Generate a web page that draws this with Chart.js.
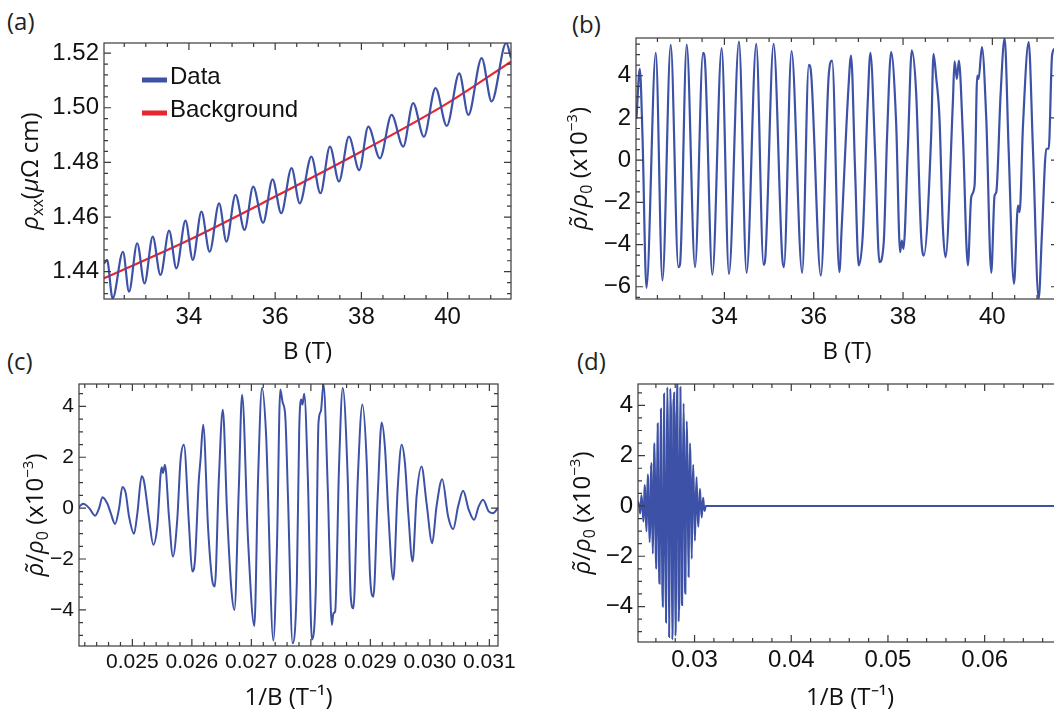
<!DOCTYPE html>
<html>
<head>
<meta charset="utf-8">
<script src="https://cdn.jsdelivr.net/npm/chart.js@4.4.1/dist/chart.umd.min.js"></script>
<style>
html, body { margin: 0; padding: 0; background: #fff; width: 1054px; height: 713px; overflow: hidden; position: relative; }
canvas { position: absolute; }
.tag { position: absolute; font: 24px 'Open Sans', sans-serif; line-height: 24px; color: #222; }
</style>
</head>
<body>
<div class="tag" style="left:7px;top:9px">(a)</div>
<div class="tag" style="left:572px;top:12px">(b)</div>
<div class="tag" style="left:7px;top:349px">(c)</div>
<div class="tag" style="left:577px;top:349px">(d)</div>
<canvas id="chartA"></canvas>
<canvas id="chartB"></canvas>
<canvas id="chartC"></canvas>
<canvas id="chartD"></canvas>
<script>
// ---- data ----
// (a) raw resistivity vs field
const aField = [32.03, 32.10, 32.23, 32.47, 32.61, 32.80, 32.97, 33.16, 33.34, 33.54, 33.71, 33.92, 34.09, 34.29, 34.48,
  34.70, 34.87, 35.08, 35.29, 35.49, 35.72, 35.94, 36.14, 36.38, 36.57, 36.84, 37.05, 37.27, 37.48, 37.71, 37.95,
  38.16, 38.43, 38.70, 38.97, 39.20, 39.45, 39.72, 39.98, 40.27, 40.48, 40.79, 41.02, 41.36, 41.47];
const aRho = [1.4430, 1.4443, 1.4302, 1.4473, 1.4327, 1.4504, 1.4357, 1.4528, 1.4388, 1.4550, 1.4412, 1.4587, 1.4443, 1.4620, 1.4473,
  1.4650, 1.4510, 1.4681, 1.4553, 1.4711, 1.4579, 1.4738, 1.4614, 1.4779, 1.4650, 1.4821, 1.4687, 1.4858, 1.4730, 1.4894, 1.4772,
  1.4931, 1.4815, 1.4974, 1.4858, 1.5017, 1.4894, 1.5072, 1.4934, 1.5126, 1.4974, 1.5182, 1.5023, 1.5237, 1.5182];
const bgField = [32.03, 34, 36, 38, 40, 41.47];
const bgRho = [1.4376, 1.4516, 1.4675, 1.4840, 1.5017, 1.5169];

// (b) oscillatory part vs field (x10^-3)
const bField = [32.03, 32.105, 32.165, 32.254, 32.463, 32.612, 32.798, 32.969, 33.007, 33.156, 33.342, 33.521, 33.566, 33.730,
  33.938, 34.102, 34.326, 34.497, 34.713, 34.877, 34.922, 35.101, 35.294, 35.332, 35.503, 35.741, 35.890, 35.942, 36.159,
  36.338, 36.412, 36.574, 36.626, 36.776, 36.836, 36.925, 37.007, 37.097, 37.209, 37.269, 37.374, 37.471, 37.568, 37.643,
  37.733, 37.845, 37.935, 37.972, 38.009, 38.107, 38.196, 38.293, 38.406, 38.465, 38.630, 38.682, 38.742, 38.817, 38.892,
  38.951, 39.116, 39.153, 39.206, 39.250, 39.340, 39.452, 39.527, 39.602, 39.662, 39.692, 39.766, 39.864, 39.976, 40.050,
  40.088, 40.185, 40.275, 40.364, 40.484, 40.574, 40.611, 40.686, 40.813, 40.910, 41.037, 41.112, 41.209, 41.262, 41.337, 41.40];
const bOsc = [1.96, 4.33, 1.17, -6.05, 5.09, -5.70, 5.47, -5.07, -4.91, 5.48, -5.07, 5.09, 4.64, -5.43,
  5.31, -5.40, 5.62, -5.34, 5.51, -4.96, -4.44, 5.51, -4.60, -5.07, 5.17, -5.34, 4.52, 4.09, -5.47,
  4.09, 4.72, -5.31, -3.20, 3.38, 4.96, -0.41, -4.99, -3.57, 2.75, 5.09, 0.38, -4.83, -3.89, 1.17,
  5.12, 1.80, -4.36, -3.81, -4.20, 0.54, 5.20, 3.22, -3.65, -4.52, 1.17, 5.04, 3.93, 1.95, -3.18,
  -4.60, 2.75, 4.68, 3.85, 4.72, 1.17, -4.99, -1.75, -1.20, 4.01, 3.85, 5.36, 1.95, -5.34, -1.67,
  -1.52, 3.14, 5.78, 0.54, -5.86, -2.15, -2.46, 1.64, 5.59, 0.46, -6.57, -3.40, 0.54, 0.54, 4.96, 5.30];

// (c) windowed oscillation vs inverse field (x10^-3)
const cInvB = [0.024095, 0.024173, 0.024274, 0.024374, 0.024441, 0.024497, 0.024581, 0.024637, 0.024709, 0.024777,
  0.024832, 0.024888, 0.024944, 0.025028, 0.025084, 0.025156, 0.025196, 0.025279, 0.025352, 0.025419, 0.025492,
  0.025514, 0.025547, 0.025615, 0.025682, 0.025754, 0.025810, 0.025866, 0.025950, 0.026006, 0.026050, 0.026117,
  0.026145, 0.026190, 0.026274, 0.026341, 0.026385, 0.026453, 0.026520, 0.026592, 0.026665, 0.026715, 0.026788,
  0.026844, 0.026944, 0.027050, 0.027112, 0.027179, 0.027246, 0.027369, 0.027430, 0.027486, 0.027525, 0.027570,
  0.027615, 0.027693, 0.027765, 0.027804, 0.027838, 0.027860, 0.027888, 0.027950, 0.028017, 0.028084, 0.028128,
  0.028168, 0.028212, 0.028285, 0.028352, 0.028380, 0.028408, 0.028475, 0.028536, 0.028620, 0.028670, 0.028715,
  0.028788, 0.028866, 0.028939, 0.028994, 0.029050, 0.029123, 0.029190, 0.029246, 0.029302, 0.029385, 0.029458,
  0.029525, 0.029581, 0.029637, 0.029709, 0.029777, 0.029860, 0.029944, 0.030039, 0.030112, 0.030207, 0.030307,
  0.030391, 0.030475, 0.030559, 0.030654, 0.030743, 0.030821, 0.030894, 0.030989, 0.031061, 0.031145];
const cOsc = [0.03, 0.17, 0.00, -0.30, 0.00, 0.43, 0.17, -0.20, -0.62, 0.00,
  0.83, 0.59, -0.33, -1.01, -0.20, 1.25, 1.05, -0.39, -1.44, -0.72, 1.61,
  1.38, 1.71, -0.33, -1.90, -0.46, 1.90, 2.49, -0.59, -2.49, -2.10, 1.12,
  1.90, 3.28, -0.85, -2.82, -3.08, 1.12, 3.87, -0.20, -3.22, -4.00, 0.72,
  4.46, -1.25, -4.63, 1.12, 4.72, 2.95, -5.21, -1.51, 4.66, 4.16, 3.61,
  0.46, -5.31, -2.82, 3.08, 4.27, 4.07, 4.50, 1.12, -5.16, -3.08, 3.35,
  3.81, 4.86, 0.72, -4.59, -4.13, -4.07, 1.77, 4.72, 1.12, -3.48, -3.94,
  1.12, 4.07, 1.77, -2.62, -3.48, 0.46, 3.37, 2.36, -0.20, -2.82, 0.72,
  2.49, 1.77, -0.20, -2.10, 0.46, 1.64, 0.20, -1.38, 0.07, 1.14, -0.33,
  -0.83, 0.07, 0.68, -0.07, -0.46, 0.07, 0.33, -0.13, -0.20, 0.00];

// (d) same trace, zero-padded out to large 1/B
const dTailInvB = [0.0312, 0.068];
const dTailOsc = [0, 0];

// tick labels
const aXTicks = [34, 36, 38, 40];
const aYTicks = [1.44, 1.46, 1.48, 1.50, 1.52];
const bYTicks = [-6, -4, -2, 0, 2, 4];
const cXTicks = [0.025, 0.026, 0.027, 0.028, 0.029, 0.030, 0.031];
const oscYTicks = [-4, -2, 0, 2, 4];
const dXTicks = [0.03, 0.04, 0.05, 0.06];

const legendLabels = ['Data', 'Background'];

// ---- styling ----
const blue = '#3d52a6';
const red = '#e8262d';
const frameColor = '#3a3a3a';
const tickFamily = "'Liberation Sans', Arial, sans-serif";
const titleFamily = "'Open Sans', sans-serif";

const pts = (xs, ys) => xs.map((x, i) => ({ x, y: ys[i] }));
const minus = v => String(v).replace('-', '\u2212');

// Mathematica-like frame with inward major/minor ticks on all four sides
const frameTicks = {
    id: 'frameTicks',
    afterDraw(chart, args, opts) {
        const { ctx, chartArea: a } = chart;
        ctx.save();
        ctx.strokeStyle = frameColor;
        ctx.lineWidth = 1.2;
        ctx.strokeRect(a.left, a.top, a.right - a.left, a.bottom - a.top);
        ctx.beginPath();
        [['x', opts.xMinor], ['y', opts.yMinor]].forEach(([key, step]) => {
            const s = chart.scales[key];
            const majors = s.ticks.map(t => t.value);
            const n0 = Math.ceil(s.min / step - 1e-6), n1 = Math.floor(s.max / step + 1e-6);
            for (let n = n0; n <= n1; n++) {
                const v = n * step;
                const len = majors.some(m => Math.abs(m - v) < step * 1e-3) ? 7 : 4;
                const p = s.getPixelForValue(v);
                if (key === 'x') {
                    ctx.moveTo(p, a.bottom); ctx.lineTo(p, a.bottom - len);
                    ctx.moveTo(p, a.top); ctx.lineTo(p, a.top + len);
                } else {
                    ctx.moveTo(a.left, p); ctx.lineTo(a.left + len, p);
                    ctx.moveTo(a.right, p); ctx.lineTo(a.right - len, p);
                }
            }
        });
        ctx.stroke();
        ctx.restore();
    }
};

// legend drawn inside the plot, like panel (a)
const insetLegend = {
    id: 'insetLegend',
    afterDraw(chart) {
        const { ctx, chartArea: a } = chart;
        ctx.save();
        ctx.font = '24px ' + tickFamily;
        ctx.textBaseline = 'middle';
        chart.data.datasets.forEach((ds, i) => {
            const y = a.top + 37 + i * 33;
            ctx.fillStyle = ds.borderColor;
            ctx.fillRect(a.left + 38, y - 2.5, 25, 5);
            ctx.fillStyle = '#111';
            ctx.fillText(ds.label, a.left + 66, y - 3);
        });
        ctx.restore();
    }
};

// rotated y title with italic rho and sub/superscripts
function richTitle(x, parts) {
    return {
        id: 'richTitle',
        afterDraw(chart) {
            const { ctx, chartArea: a } = chart;
            const font = p => (p.it ? 'italic ' : '') + (p.size || 24) + 'px ' + titleFamily;
            ctx.save();
            ctx.translate(x, (a.top + a.bottom) / 2);
            ctx.rotate(-Math.PI / 2);
            ctx.textBaseline = 'alphabetic';
            ctx.fillStyle = '#111';
            let w = 0;
            parts.forEach(p => { ctx.font = font(p); w += ctx.measureText(p.t).width; });
            let cx = -w / 2;
            parts.forEach(p => {
                ctx.font = font(p);
                ctx.fillText(p.t, cx, 7 + (p.dy || 0));
                cx += ctx.measureText(p.t).width;
            });
            ctx.restore();
        }
    };
}

function axis(range, ticks, fmt, fontSize, title, fitKey, fitSize) {
    return {
        type: 'linear',
        min: range[0], max: range[1],
        grid: { display: false, drawTicks: false },
        border: { display: false },
        afterBuildTicks: s => { s.ticks = ticks.map(v => ({ value: v })); },
        afterFit: s => { s[fitKey] = fitSize; },
        ticks: {
            autoSkip: false, maxRotation: 0, minRotation: 0,
            padding: fitKey === 'height' ? 4 : 5,
            color: '#111',
            font: { family: tickFamily, size: fontSize },
            callback: v => fmt(v)
        },
        title: {
            display: !!title, text: title || '', color: '#111', padding: 0,
            font: { family: titleFamily, size: 24, lineHeight: 1 }
        }
    };
}

// box: canvas rect on the page, area: wanted plot rect on the page, yTitleX: centre of the rotated title
function panel(id, box, area, yTitleX, yTitle, datasets, xAxis, yAxis, minor, extraPlugins) {
    const cv = document.getElementById(id);
    cv.width = box.w; cv.height = box.h;
    cv.style.left = box.l + 'px'; cv.style.top = box.t + 'px';
    const padL = yTitleX - 12 - box.l;
    const xa = axis(xAxis.range, xAxis.ticks, xAxis.fmt, xAxis.size, xAxis.title, 'height', box.t + box.h - area.b);
    const ya = axis(yAxis.range, yAxis.ticks, yAxis.fmt, yAxis.size, null, 'width', area.l - box.l - padL);
    return new Chart(cv, {
        type: 'line',
        data: { datasets },
        options: {
            responsive: false, animation: false, devicePixelRatio: 1,
            layout: { padding: { left: padL, top: area.t - box.t, right: box.l + box.w - area.r, bottom: 0 } },
            elements: { point: { radius: 0 } },
            plugins: { legend: { display: false }, tooltip: { enabled: false }, frameTicks: minor },
            scales: { x: xa, y: ya }
        },
        plugins: [frameTicks, richTitle(yTitleX - box.l, yTitle)].concat(extraPlugins || [])
    });
}

const line = (label, data, color, width) => ({
    label, data, borderColor: color, borderWidth: width,
    cubicInterpolationMode: 'monotone', fill: false
});

const fieldTitle = 'B (T)';
const invTitle = '1/B (T\u207B\u00B9)';
const oscTitle = [
    { t: '\u03C1\u0303', it: true }, { t: '/' }, { t: '\u03C1', it: true }, { t: '0', size: 16, dy: 5 },
    { t: ' (x10' }, { t: '\u22123', size: 15, dy: -10 }, { t: ')' }
];
const rhoTitle = [
    { t: '\u03C1', it: true }, { t: 'xx', size: 16, dy: 5 }, { t: '(' }, { t: '\u03BC', it: true }, { t: '\u03A9 cm)' }
];

panel('chartA', { l: 0, t: 0, w: 527, h: 364 }, { l: 104, t: 43, r: 511, b: 299 }, 31, rhoTitle,
    [line(legendLabels[0], pts(aField, aRho), blue, 2.2), line(legendLabels[1], pts(bgField, bgRho), red, 2.2)],
    { range: [32.03, 41.47], ticks: aXTicks, fmt: v => String(v), size: 24, title: fieldTitle },
    { range: [1.430, 1.5237], ticks: aYTicks, fmt: v => v.toFixed(2), size: 24 },
    { xMinor: 0.5, yMinor: 0.004 }, [insetLegend]);

panel('chartB', { l: 527, t: 0, w: 560, h: 364 }, { l: 636, t: 38, r: 1058, b: 299 }, 579.5, oscTitle,
    [line('osc', pts(bField, bOsc), blue, 2.2)],
    { range: [32.02, 41.47], ticks: aXTicks, fmt: v => String(v), size: 24, title: fieldTitle },
    { range: [-6.58, 5.79], ticks: bYTicks, fmt: minus, size: 24 },
    { xMinor: 0.5, yMinor: 0.5 });

panel('chartC', { l: 0, t: 340, w: 527, h: 370 }, { l: 79, t: 384, r: 498, b: 646 }, 36, oscTitle,
    [line('osc', pts(cInvB, cOsc), blue, 2)],
    { range: [0.024103, 0.031145], ticks: cXTicks, fmt: v => v.toFixed(3), size: 21, title: invTitle },
    { range: [-5.42, 4.88], ticks: oscYTicks, fmt: minus, size: 21 },
    { xMinor: 0.0002, yMinor: 0.5 });

panel('chartD', { l: 527, t: 340, w: 560, h: 370 }, { l: 638, t: 384, r: 1062, b: 642 }, 582.5, oscTitle,
    [line('osc', pts(cInvB.concat(dTailInvB), cOsc.concat(dTailOsc)), blue, 2)],
    { range: [0.02415, 0.068], ticks: dXTicks, fmt: v => v.toFixed(2), size: 24, title: invTitle },
    { range: [-5.41, 4.85], ticks: oscYTicks, fmt: minus, size: 24 },
    { xMinor: 0.002, yMinor: 0.5 });
</script>
</body>
</html>
